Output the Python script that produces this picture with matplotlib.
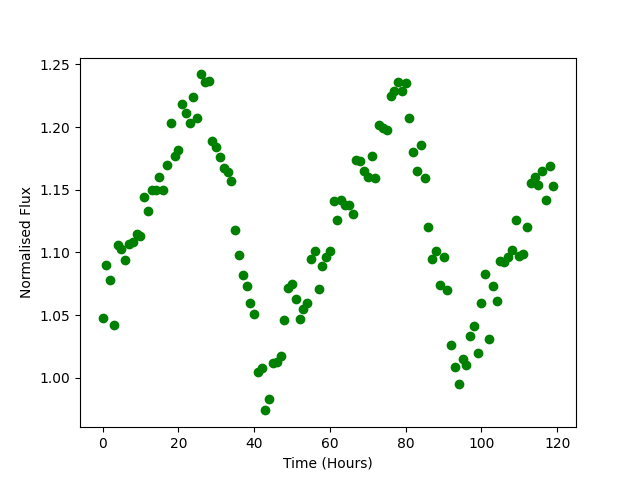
import matplotlib
matplotlib.use("Agg")
from matplotlib import pyplot as plt

# Dados
horas = list(range(120))
fluxo = [
    1.048, 1.090, 1.078, 1.042, 1.106, 1.103, 1.094, 1.107, 1.108, 1.115,
    1.113, 1.144, 1.133, 1.150, 1.150, 1.160, 1.150, 1.170, 1.203, 1.177,
    1.182, 1.218, 1.211, 1.203, 1.224, 1.207, 1.242, 1.236, 1.237, 1.189,
    1.184, 1.176, 1.167, 1.164, 1.157, 1.118, 1.098, 1.082, 1.073, 1.060,
    1.051, 1.005, 1.008, 0.974, 0.983, 1.012, 1.013, 1.017, 1.046, 1.072,
    1.075, 1.063, 1.047, 1.055, 1.060, 1.095, 1.101, 1.071, 1.089, 1.096,
    1.101, 1.141, 1.126, 1.142, 1.138, 1.138, 1.131, 1.174, 1.173, 1.165,
    1.160, 1.177, 1.159, 1.202, 1.199, 1.198, 1.225, 1.229, 1.236, 1.229,
    1.235, 1.207, 1.180, 1.165, 1.186, 1.159, 1.120, 1.095, 1.101, 1.074,
    1.096, 1.070, 1.026, 1.009, 0.995, 1.015, 1.010, 1.033, 1.041, 1.020,
    1.060, 1.083, 1.031, 1.073, 1.061, 1.093, 1.092, 1.096, 1.102, 1.126,
    1.097, 1.099, 1.120, 1.155, 1.160, 1.154, 1.165, 1.142, 1.169, 1.153,
]

plt.figure(figsize=(6.4, 4.8), dpi=100)
plt.plot(horas, fluxo, "go")
plt.xlabel("Time (Hours)")
plt.ylabel("Normalised Flux")
plt.savefig("out.png")
